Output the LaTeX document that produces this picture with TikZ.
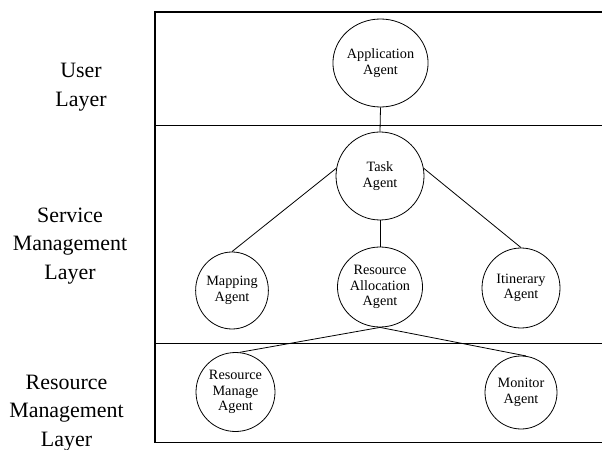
\documentclass[tikz,border=0pt]{standalone}
\usepackage{fontspec}
\setmainfont{Liberation Serif}
\usetikzlibrary{shapes.geometric}
\begin{document}
\begin{tikzpicture}[x=1bp,y=-1bp,
  agent/.style={ellipse,draw,line width=0.8bp,inner sep=0pt,align=center,
    font=\fontsize{14.3}{15.5}\selectfont},
  layerlabel/.style={align=center,font=\fontsize{22}{28.5}\selectfont},
  frame/.style={line width=1.4bp},
  link/.style={line width=0.8bp}]
\useasboundingbox (0,0) rectangle (602,450);

% layer frame
\draw[frame] (602,12) -- (155,12) -- (155,442.5) -- (602,442.5);
\draw[frame] (155,125.3) -- (602,125.3);
\draw[frame] (155,343.5) -- (602,343.5);

% layer names
\node[layerlabel] (user) at (81,87) {User\\Layer};
\node[layerlabel] (service) at (70,246) {Service\\Management\\Layer};
\node[layerlabel] (resource) at (66.5,413) {Resource\\Management\\Layer};

% agents
\node[agent,minimum width=89bp,minimum height=88bp] (app) at (380.5,63) {Application\\Agent};
\node[agent,minimum width=88bp,minimum height=88bp] (task) at (380,176) {Task\\Agent};
\node[agent,minimum width=71bp,minimum height=77bp] (map) at (232,290.5) {Mapping\\Agent};
\node[agent,minimum width=75bp,minimum height=80bp] (ra) at (380,287) {Resource\\Allocation\\Agent};
\node[agent,minimum width=78bp,minimum height=80bp] (itin) at (521,288) {Itinerary\\Agent};
\node[agent,minimum width=79bp,minimum height=79bp] (rm) at (235.5,392) {Resource\\Manage\\Agent};
\node[agent,minimum width=72bp,minimum height=73bp] (mon) at (521,392.5) {Monitor\\Agent};

% connections
\draw[link] (app.south) -- (task.north);
\draw[link] (task.south) -- (ra.north);
\draw[link] (task.170) -- (map.north);
\draw[link] (task.10) -- (itin.north);
\draw[link] (ra.south) -- (rm.84);
\draw[link] (ra.south) -- (mon.82);
\end{tikzpicture}
\end{document}
